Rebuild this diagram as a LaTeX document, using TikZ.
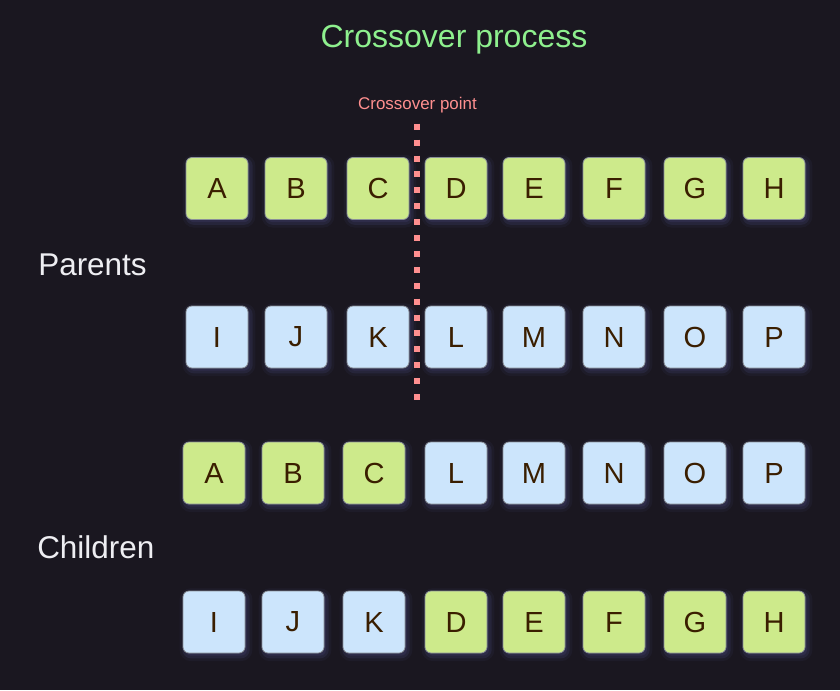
\documentclass[tikz,border=0pt]{standalone}
\usepackage{fontspec}
\setmainfont{Liberation Sans}
\definecolor{bg}{HTML}{1A1720}
\definecolor{gfill}{HTML}{CDEA8B}
\definecolor{bfill}{HTML}{CCE5FC}
\definecolor{boxtext}{HTML}{3A1E00}
\definecolor{boxedge}{HTML}{8A9098}
\definecolor{shade}{HTML}{3A3A62}
\definecolor{titlec}{HTML}{8EF08E}
\definecolor{pointc}{HTML}{FF8F8F}
\definecolor{labelc}{HTML}{EEEEF2}
\tikzset{
  cell/.style={rectangle, rounded corners=4.5pt, minimum width=46.5pt, minimum height=46.5pt,
    inner sep=0pt, draw=boxedge, line width=0.6pt, text=boxtext,
    font=\fontsize{21.8pt}{24pt}\selectfont,
    preaction={fill=shade, draw=shade, line width=8pt, opacity=0.15, transform canvas={xshift=1.5pt,yshift=-2pt}},
    preaction={fill=shade, draw=shade, line width=4pt, opacity=0.3, transform canvas={xshift=1.5pt,yshift=-2pt}}},
  gcell/.style={cell, fill=gfill},
  bcell/.style={cell, fill=bfill},
  grouplabel/.style={anchor=base west, inner sep=0pt, text=labelc, font=\fontsize{23.6pt}{26pt}\selectfont},
}
\begin{document}
\begin{tikzpicture}[x=0.75pt,y=-0.75pt]
\fill[bg] (0,0) rectangle (840,690);
\useasboundingbox (0,0) rectangle (840,690);

% title
\node[anchor=base, inner sep=0pt, text=titlec, font=\fontsize{24pt}{28pt}\selectfont] (title) at (454,47.7) {Crossover process};

% group labels
\node[grouplabel] (parents) at (38,275) {Parents};
\node[grouplabel] (children) at (37,558.3) {Children};

% parents
\foreach \L/\x [count=\i] in {A/217,B/296,C/378,D/456,E/534,F/614,G/695,H/774}
  \node[gcell] (pa\i) at (\x,188.5) {\L};
\foreach \L/\x [count=\i] in {I/217,J/296,K/378,L/456,M/534,N/614,O/695,P/774}
  \node[bcell] (pb\i) at (\x,337) {\L};

% children
\foreach \L/\x [count=\i] in {A/214,B/293,C/374}
  \node[gcell] (ca\i) at (\x,473) {\L};
\foreach \L/\x [count=\i] in {L/456,M/534,N/614,O/695,P/774}
  \node[bcell] (cb\i) at (\x,473) {\L};
\foreach \L/\x [count=\i] in {I/214,J/293,K/374}
  \node[bcell] (cc\i) at (\x,622) {\L};
\foreach \L/\x [count=\i] in {D/456,E/534,F/614,G/695,H/774}
  \node[gcell] (cd\i) at (\x,622) {\L};

% crossover point
\node[anchor=base, inner sep=0pt, text=pointc, font=\fontsize{12.7pt}{15pt}\selectfont] (cplabel) at (417.5,109.3) {Crossover point};
\coordinate (cptop) at (417.3,123.7);
\coordinate (cpbot) at (417.3,400);
\draw[pointc, line width=4.5pt, dash pattern=on 4.5pt off 7.43pt] (cptop) -- (cpbot);
\end{tikzpicture}
\end{document}
